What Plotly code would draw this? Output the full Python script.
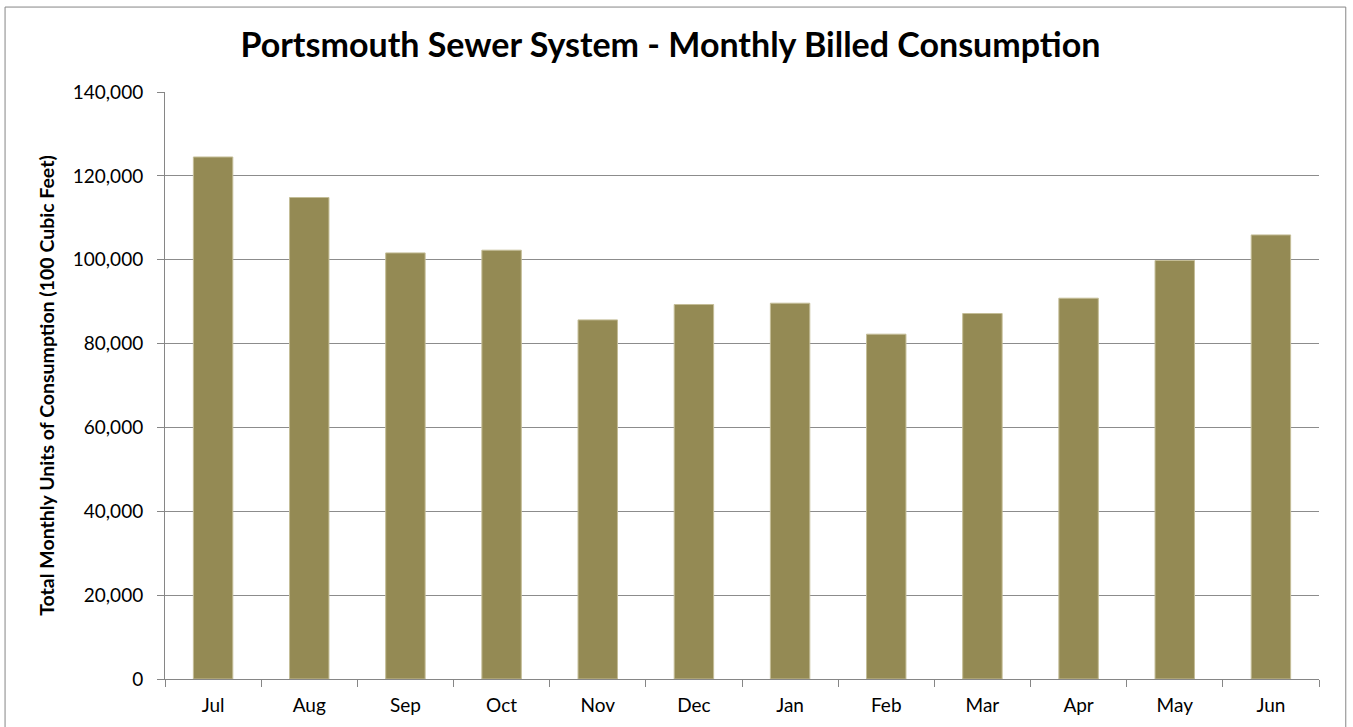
import plotly.graph_objects as go

months = ["Jul", "Aug", "Sep", "Oct", "Nov", "Dec", "Jan", "Feb", "Mar", "Apr", "May", "Jun"]
consumption = [124500, 114830, 101620, 102270, 85650, 89320, 89630, 82240, 87170, 90820, 99810, 105910]
y_ticks = [0, 20000, 40000, 60000, 80000, 100000, 120000, 140000]

FONT = "Lato"

fig = go.Figure()
fig.add_trace(go.Bar(
    x=months, y=consumption,
    marker=dict(color="#948A54", line=dict(color="#C4BD97", width=1)),
    width=0.41,
))

fig.update_layout(
    width=1353, height=727,
    margin=dict(l=165, r=34, t=92, b=48),
    paper_bgcolor="white", plot_bgcolor="white",
    showlegend=False,
    title=dict(
        text="<b>Portsmouth Sewer System - Monthly Billed Consumption</b>",
        x=0.4955, xanchor="center", y=0.938, yanchor="middle",
        font=dict(family=FONT, size=34, color="black"),
    ),
    font=dict(family=FONT, size=19, color="black"),
    xaxis=dict(
        type="category",
        showline=True, linecolor="#868686", linewidth=1,
        ticks="outside", tickson="boundaries", ticklen=7, tickcolor="#868686",
        ticklabelstandoff=9,
        showgrid=False,
        tickfont=dict(family=FONT, size=19, color="black"),
        range=[-0.5, 11.5],
    ),
    yaxis=dict(
        range=[0, 140000],
        tickvals=y_ticks,
        tickformat=",d",
        showline=True, linecolor="#868686", linewidth=1,
        ticks="outside", ticklen=7, tickcolor="#868686",
        ticklabelstandoff=10,
        showgrid=True, gridcolor="#8C8C8C", gridwidth=1,
        zeroline=False,
        tickfont=dict(family=FONT, size=19, color="black"),
        title=dict(
            text="<b>Total Monthly Units of Consumption (100 Cubic Feet)</b>",
            font=dict(family=FONT, size=19.5, color="black"),
            standoff=12,
        ),
    ),
    shapes=[dict(
        type="rect", xref="paper", yref="paper",
        x0=-0.1386, x1=1.0232, y0=-0.1, y1=1.1447,
        line=dict(color="#868686", width=1), fillcolor="rgba(0,0,0,0)",
        layer="below",
    )],
)

fig.write_html("out.html", config={"displayModeBar": False},
               post_script="document.body.style.margin='0';")
